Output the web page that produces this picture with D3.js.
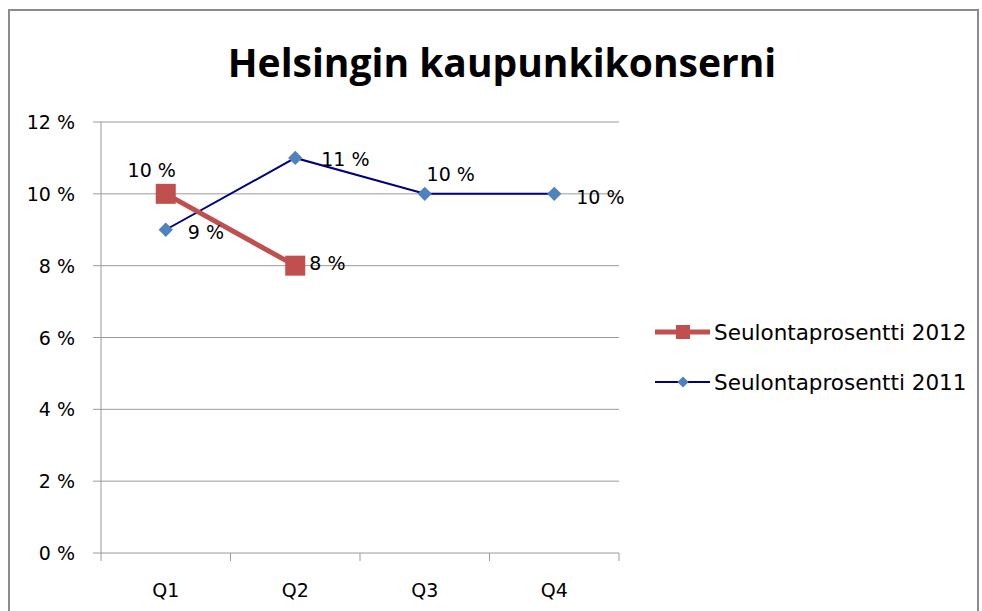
<!DOCTYPE html>
<html>
<head>
<meta charset="utf-8">
<script src="https://cdn.jsdelivr.net/npm/d3@7"></script>
<style>
  body { margin: 0; background: #fff; }
  svg text { font-family: "DejaVu Sans", sans-serif; fill: #000; }
  svg text.title { font-family: "Open Sans", sans-serif; }
</style>
</head>
<body>
<div id="chart"></div>
<script>
// chart data
var title = "Helsingin kaupunkikonserni";
var quarters = ["Q1", "Q2", "Q3", "Q4"];
var yTicks = [0, 2, 4, 6, 8, 10, 12];
var values2012 = [10, 8, null, null];
var values2011 = [9, 11, 10, 10];
var seriesNames = ["Seulontaprosentti 2012", "Seulontaprosentti 2011"];

var width = 982, height = 611;
var plotLeft = 101, plotRight = 619, plotTop = 122, plotBottom = 553;
var fs = 19;

var svg = d3.select("#chart").append("svg")
    .attr("width", width)
    .attr("height", height);

// outer frame
svg.append("rect")
    .attr("x", 9).attr("y", 10)
    .attr("width", 969).attr("height", 620)
    .attr("fill", "none")
    .attr("stroke", "#8c8c8c")
    .attr("stroke-width", 2);

svg.append("text")
    .attr("class", "title")
    .attr("x", 502).attr("y", 77)
    .attr("text-anchor", "middle")
    .attr("font-size", 39)
    .attr("font-weight", "bold")
    .text(title);

var x = d3.scaleBand()
    .domain(quarters)
    .range([plotLeft, plotRight]);

var y = d3.scaleLinear()
    .domain([0, 12])
    .range([plotBottom, plotTop]);

// gridlines
svg.selectAll("line.grid").data(yTicks)
    .enter().append("line")
    .attr("class", "grid")
    .attr("x1", plotLeft - 8).attr("x2", plotRight)
    .attr("y1", function(d) { return y(d); })
    .attr("y2", function(d) { return y(d); })
    .attr("stroke", "#9a9a9a")
    .attr("stroke-width", 1);

svg.selectAll("text.ylab").data(yTicks)
    .enter().append("text")
    .attr("class", "ylab")
    .attr("x", 75)
    .attr("y", function(d) { return y(d) + 7; })
    .attr("text-anchor", "end")
    .attr("font-size", fs)
    .text(function(d) { return d + " %"; });

// y axis line
svg.append("line")
    .attr("x1", plotLeft).attr("x2", plotLeft)
    .attr("y1", plotTop).attr("y2", plotBottom)
    .attr("stroke", "#9a9a9a");

// x ticks at band edges
var edges = quarters.map(function(q) { return x(q); }).concat([plotRight]);
svg.selectAll("line.xtick").data(edges)
    .enter().append("line")
    .attr("class", "xtick")
    .attr("x1", function(d) { return d; })
    .attr("x2", function(d) { return d; })
    .attr("y1", plotBottom).attr("y2", plotBottom + 8)
    .attr("stroke", "#9a9a9a");

svg.selectAll("text.xlab").data(quarters)
    .enter().append("text")
    .attr("class", "xlab")
    .attr("x", function(d) { return x(d) + x.bandwidth() / 2; })
    .attr("y", 597)
    .attr("text-anchor", "middle")
    .attr("font-size", fs)
    .text(function(d) { return d; });

function cx(i) { return x(quarters[i]) + x.bandwidth() / 2; }

var line = d3.line()
    .defined(function(d) { return d != null; })
    .x(function(d, i) { return cx(i); })
    .y(function(d) { return y(d); });

// 2011 series (blue)
svg.append("path")
    .datum(values2011)
    .attr("d", line)
    .attr("fill", "none")
    .attr("stroke", "#000080")
    .attr("stroke-width", 2);

// 2012 series (red)
svg.append("path")
    .datum(values2012)
    .attr("d", line)
    .attr("fill", "none")
    .attr("stroke", "#C0504D")
    .attr("stroke-width", 5);

svg.selectAll("rect.m2012").data(values2012.filter(function(d) { return d != null; }))
    .enter().append("rect")
    .attr("class", "m2012")
    .attr("x", function(d, i) { return cx(i) - 10; })
    .attr("y", function(d) { return y(d) - 10; })
    .attr("width", 20).attr("height", 20)
    .attr("fill", "#C0504D");

var diamond = d3.symbol().type(d3.symbolDiamond2).size(130);
svg.selectAll("path.m2011").data(values2011)
    .enter().append("path")
    .attr("class", "m2011")
    .attr("transform", function(d, i) { return "translate(" + cx(i) + "," + y(d) + ")"; })
    .attr("d", diamond)
    .attr("fill", "#4F81BD");

// data labels
var off2012 = [[-14, -17, "middle"], [14, 4, "start"]];
var off2011 = [[22, 9, "start"], [26, 8, "start"], [26, -13, "middle"], [22, 10, "start"]];

svg.selectAll("text.l2012").data(values2012.filter(function(d) { return d != null; }))
    .enter().append("text")
    .attr("class", "l2012")
    .attr("x", function(d, i) { return cx(i) + off2012[i][0]; })
    .attr("y", function(d, i) { return y(d) + off2012[i][1]; })
    .attr("text-anchor", function(d, i) { return off2012[i][2]; })
    .attr("font-size", fs)
    .text(function(d) { return d + " %"; });

svg.selectAll("text.l2011").data(values2011)
    .enter().append("text")
    .attr("class", "l2011")
    .attr("x", function(d, i) { return cx(i) + off2011[i][0]; })
    .attr("y", function(d, i) { return y(d) + off2011[i][1]; })
    .attr("text-anchor", function(d, i) { return off2011[i][2]; })
    .attr("font-size", fs)
    .text(function(d) { return d + " %"; });

// legend
var legend = svg.selectAll("g.legend").data(seriesNames)
    .enter().append("g")
    .attr("class", "legend")
    .attr("transform", function(d, i) { return "translate(655," + (332 + i * 50) + ")"; });

legend.append("line")
    .attr("x1", 0).attr("x2", 55)
    .attr("stroke", function(d, i) { return i == 0 ? "#C0504D" : "#000080"; })
    .attr("stroke-width", function(d, i) { return i == 0 ? 5 : 2; });

legend.filter(function(d, i) { return i == 0; }).append("rect")
    .attr("x", 21).attr("y", -7).attr("width", 14).attr("height", 14)
    .attr("fill", "#C0504D");

legend.filter(function(d, i) { return i == 1; }).append("path")
    .attr("transform", "translate(28,0)")
    .attr("d", d3.symbol().type(d3.symbolDiamond2).size(80))
    .attr("fill", "#4F81BD");

legend.append("text")
    .attr("x", 59).attr("y", 8)
    .attr("font-size", 21.5)
    .text(function(d) { return d; });
</script>
</body>
</html>
